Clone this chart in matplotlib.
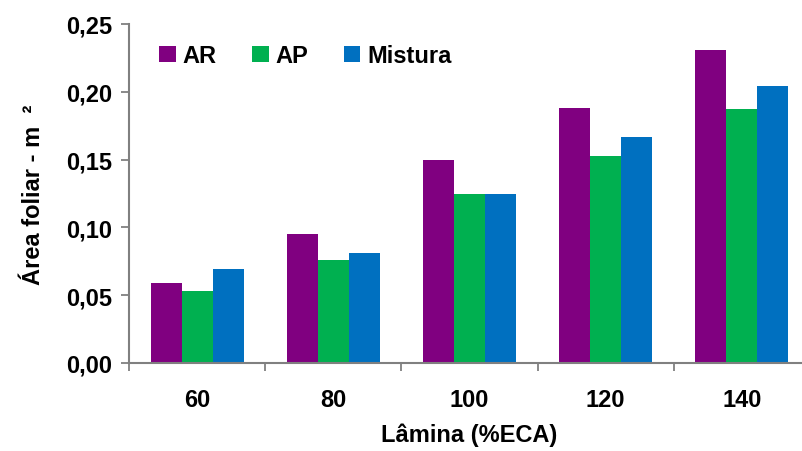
import matplotlib
matplotlib.use("Agg")
import matplotlib.pyplot as plt
import numpy as np

plt.rcParams['font.family'] = ['Liberation Sans', 'DejaVu Sans']

categories = ['60', '80', '100', '120', '140']
series_names = ['AR', 'AP', 'Mistura']
ar = [0.059, 0.095, 0.150, 0.188, 0.231]
ap = [0.053, 0.076, 0.125, 0.153, 0.187]
mistura = [0.069, 0.081, 0.125, 0.167, 0.204]
colors = ['#800080', '#00B050', '#0070C0']
yticks = [0.00, 0.05, 0.10, 0.15, 0.20, 0.25]
ytick_labels = ['0,00', '0,05', '0,10', '0,15', '0,20', '0,25']

FS = 17

fig = plt.figure(figsize=(8.02, 4.52), dpi=100)
ax = fig.add_axes([129/802, 1-364/452, (810-129)/802, (364-25)/452])

x = np.arange(len(categories))
w = 0.228
for i, (vals, name, c) in enumerate(zip([ar, ap, mistura], series_names, colors)):
    ax.bar(x + (i-1)*w, vals, width=w, color=c, label=name, zorder=2)

ax.set_xlim(-0.5, len(categories)-0.5)
ax.set_ylim(0, 0.25)
ax.set_yticks(yticks)
ax.set_yticklabels(ytick_labels, fontsize=FS, fontweight='bold')
ax.set_xticks(x)
ax.set_xticklabels(categories, fontsize=FS, fontweight='bold')
ax.set_xticks(np.arange(-0.5, len(categories)), minor=True)
ax.tick_params(axis='x', which='major', length=0, pad=18)
ax.tick_params(axis='x', which='minor', length=6, color='#808080', width=1.3, direction='out')
ax.tick_params(axis='y', length=6, color='#808080', width=1.3, direction='out', pad=6)

for s in ['top', 'right']:
    ax.spines[s].set_visible(False)
for s in ['left', 'bottom']:
    ax.spines[s].set_color('#808080')
    ax.spines[s].set_linewidth(1.5)

ax.set_xlabel('Lâmina (%ECA)', fontsize=FS, fontweight='bold', labelpad=8)
ax.set_ylabel('Área foliar - m  ²', fontsize=FS, fontweight='bold', labelpad=15)

leg = ax.legend(loc='upper left', ncol=3, frameon=False, prop={'size': FS, 'weight': 'bold'},
                handlelength=0.7, handleheight=0.65, handletextpad=0.3, columnspacing=1.5,
                bbox_to_anchor=(0.02, 0.99), borderaxespad=0.3)

fig.savefig('out.png', dpi=100)
